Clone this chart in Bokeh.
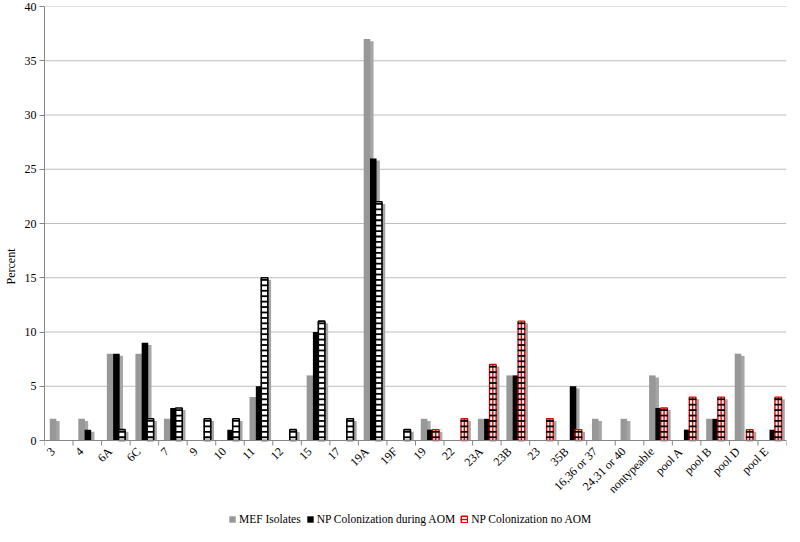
from bokeh.plotting import figure
from bokeh.models import ColumnDataSource, Range1d, FixedTicker, Legend, LegendItem, Label
from bokeh.embed import file_html
from bokeh.resources import INLINE

categories = ["3", "4", "6A", "6C", "7", "9", "10", "11", "12", "15", "17", "19A", "19F",
              "19", "22", "23A", "23B", "23", "35B", "16,36 or 37", "24,31 or 40",
              "nontypeable", "pool A", "pool B", "pool D", "pool E"]
mef_isolates = [2, 2, 8, 8, 2, 0, 0, 4, 0, 6, 0, 37, 0, 2, 0, 2, 6, 0, 0, 2, 2, 6, 0, 2, 8, 0]
np_during_aom = [0, 1, 8, 9, 3, 0, 1, 5, 0, 10, 0, 26, 0, 1, 0, 2, 6, 0, 5, 0, 0, 3, 1, 2, 0, 1]
np_no_aom = [0, 0, 1, 2, 3, 2, 2, 15, 1, 11, 2, 22, 1, 1, 2, 7, 11, 2, 1, 0, 0, 3, 4, 4, 1, 4]
series_names = ["MEF Isolates", "NP Colonization during AOM", "NP Colonization no AOM"]
y_ticks = [0, 5, 10, 15, 20, 25, 30, 35, 40]

FONT = "Liberation Serif"
n = len(categories)
centers = [i + 0.5 for i in range(n)]
RED_FROM = 13  # from category "19" on, the no-AOM bars are drawn red/black

W, H = 792, 526
TOP, LEFT, RIGHT = 6, 34, 6
AXIS_Y = 440            # pixel row (in figure) of the value 0
Y_MAX = 40
px_per_unit = (AXIS_Y - TOP) / Y_MAX
y_min = -(H - AXIS_Y) / px_per_unit   # frame reaches down to the figure bottom
px_per_cat = (W - LEFT - RIGHT) / n

p = figure(width=W, height=H, output_backend="svg", toolbar_location=None,
           x_range=Range1d(0, n), y_range=Range1d(y_min, Y_MAX),
           x_axis_location=None,
           min_border_left=LEFT, min_border_right=RIGHT, min_border_top=TOP, min_border_bottom=0)
p.outline_line_color = None
p.xgrid.visible = False
p.ygrid.visible = False

# horizontal gridlines
p.segment(x0=[0] * len(y_ticks), y0=y_ticks, x1=[n] * len(y_ticks), y1=y_ticks,
          line_color="#bdbdbd", line_width=1)

BAR_W = 0.23
offsets = [-0.2, 0.02, 0.21]
SHADOW_DX = 0.115
SHADOW_DY = 0.2
RUNG_STEP = 0.5


def make_source(values, k, keep=None):
    xs, tops, stops, sx = [], [], [], []
    for i, v in enumerate(values):
        if v > 0 and (keep is None or keep(i)):
            xs.append(centers[i] + offsets[k])
            sx.append(centers[i] + offsets[k] + SHADOW_DX)
            tops.append(v)
            stops.append(max(v - SHADOW_DY, 0))
    return ColumnDataSource(dict(x=xs, top=tops, sx=sx, stop=stops))


def rungs(values, k):
    xs, ys = [], []
    for i, v in enumerate(values):
        y = RUNG_STEP * 0.6
        while v > 0 and y < v:
            xs.append(centers[i] + offsets[k])
            ys.append(y)
            y += RUNG_STEP
    return ColumnDataSource(dict(x=xs, y=ys))


# series 1: gray
s1 = make_source(mef_isolates, 0)
p.vbar(x="sx", top="stop", width=BAR_W, source=s1, fill_color="#a6a6a6", line_color=None)
r1 = p.vbar(x="x", top="top", width=BAR_W, source=s1, fill_color="#989898", line_color=None)
# series 2: black
s2 = make_source(np_during_aom, 1)
p.vbar(x="sx", top="stop", width=BAR_W, source=s2, fill_color="#a6a6a6", line_color=None)
r2 = p.vbar(x="x", top="top", width=BAR_W, source=s2, fill_color="black", line_color=None)
# series 3: ladder-hatched
s3 = make_source(np_no_aom, 2)
p.vbar(x="sx", top="stop", width=BAR_W, source=s3, fill_color="#a6a6a6", line_color=None)
s3b = make_source(np_no_aom, 2, keep=lambda i: i < RED_FROM)
s3r = make_source(np_no_aom, 2, keep=lambda i: i >= RED_FROM)
p.vbar(x="x", top="top", width=BAR_W, source=s3b, fill_color="white",
       line_color="black", line_width=1.6)
r3 = p.vbar(x="x", top="top", width=BAR_W, source=s3r, fill_color="white",
            line_color="#e00000", line_width=1.4)
r3c = p.segment(x0="x", y0=0, x1="x", y1="top", source=s3r, line_color="#e00000", line_width=1.4)
p.rect(x="x", y="y", width=BAR_W * 1.15, height=1.8, height_units="screen",
       source=rungs(np_no_aom, 2), fill_color="black", line_color=None)

# category axis: baseline, boundary ticks, rotated labels
tick_len = 5 / px_per_unit
p.segment(x0=[0], y0=[0], x1=[n], y1=[0], line_color="#868686", line_width=1)
bounds = list(range(n + 1))
p.segment(x0=bounds, y0=[0] * len(bounds), x1=bounds, y1=[-tick_len] * len(bounds),
          line_color="#868686", line_width=1)
for c, lab in zip(centers, categories):
    p.add_layout(Label(x=c - 6 / px_per_cat, y=-9 / px_per_unit, text=lab, angle=0.785398,
                       text_align="right", text_baseline="middle",
                       text_font=FONT, text_font_size="12px", text_color="black"))

ya = p.yaxis[0]
ya.ticker = FixedTicker(ticks=y_ticks)
ya.bounds = (0, Y_MAX)
ya.minor_tick_line_color = None
ya.major_tick_out = 5
ya.major_tick_in = 0
ya.major_tick_line_color = "#868686"
ya.axis_line_color = "#868686"
ya.major_label_text_font = FONT
ya.major_label_text_font_size = "12px"
ya.major_label_text_color = "black"
ya.major_label_standoff = 3
ya.axis_label = "Percent"
ya.axis_label_text_font = FONT
ya.axis_label_text_font_size = "12px"
ya.axis_label_text_font_style = "normal"
ya.axis_label_text_color = "black"
ya.axis_label_standoff = 4

legend = Legend(items=[
    LegendItem(label=series_names[0], renderers=[r1]),
    LegendItem(label=series_names[1], renderers=[r2]),
    LegendItem(label=series_names[2], renderers=[r3, r3c]),
], orientation="horizontal", location=(184, 1))
legend.label_text_font = FONT
legend.label_text_font_size = "11.5px"
legend.label_text_color = "black"
legend.label_height = 12
legend.glyph_width = 8
legend.glyph_height = 8
legend.label_standoff = 3
legend.spacing = 5
legend.padding = 0
legend.margin = 0
legend.border_line_color = None
legend.background_fill_alpha = 0
p.add_layout(legend, "center")

open("out.html", "w").write(file_html(p, INLINE))
